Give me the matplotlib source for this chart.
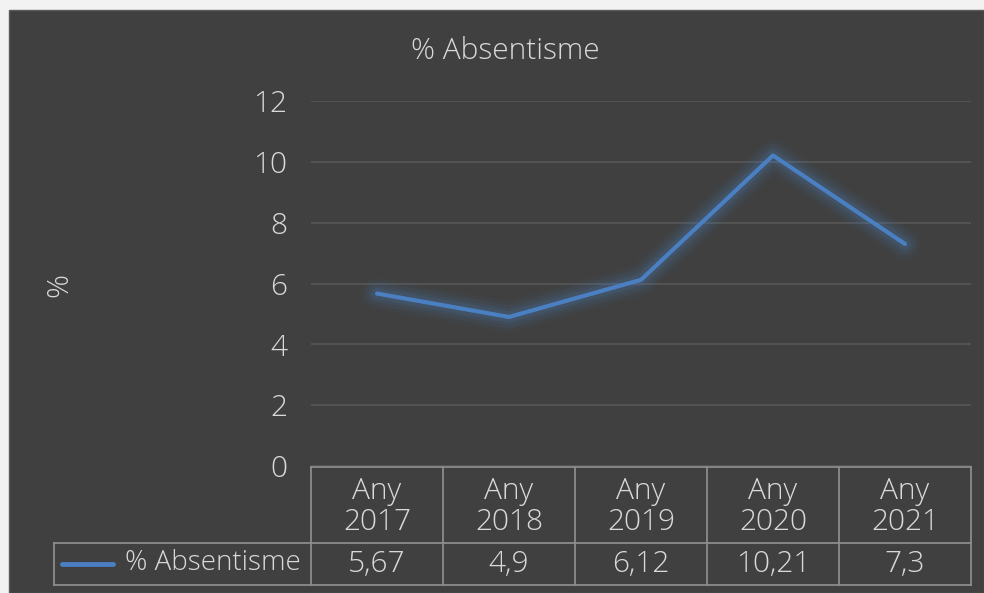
import matplotlib
matplotlib.use("Agg")
import matplotlib.pyplot as plt
from matplotlib.patches import Rectangle

categories = ["Any\n2017", "Any\n2018", "Any\n2019", "Any\n2020", "Any\n2021"]
values = [5.67, 4.9, 6.12, 10.21, 7.3]
value_labels = ["5,67", "4,9", "6,12", "10,21", "7,3"]
series_name = "% Absentisme"
yticks = [0, 2, 4, 6, 8, 10, 12]

W, H = 984, 593
BG = "#404040"
TXT = "#d9d9d9"
BLUE = "#4a7fc1"
GRID = "#575757"
FONT = ["Open Sans", "DejaVu Sans"]
FS = 21.5
FW = "light"

fig = plt.figure(figsize=(W / 100, H / 100), dpi=100)
fig.patch.set_facecolor("#f2f2f2")

ov = fig.add_axes([0, 0, 1, 1])
ov.set_xlim(0, W)
ov.set_ylim(H, 0)
ov.axis("off")
ov.add_patch(Rectangle((9, 10), W - 9, H - 10, facecolor=BG, edgecolor="#5a5a5a", lw=1))

L, R, T, B = 311, 971, 101, 466
ax = fig.add_axes([L / W, 1 - B / H, (R - L) / W, (B - T) / H])
ax.set_facecolor("none")
ax.set_xlim(-0.5, len(values) - 0.5)
ax.set_ylim(0, 12)
for s in ax.spines.values():
    s.set_visible(False)
ax.set_yticks(yticks)
ax.set_yticklabels([str(t) for t in yticks], fontsize=FS, color=TXT, family=FONT,
                   fontweight=FW)
ax.tick_params(axis="y", length=0, pad=17)
ax.set_xticks([])
ax.grid(axis="y", color=GRID, lw=1.2)
ax.set_axisbelow(True)

x = list(range(len(values)))
for lw, a in [(22, 0.05), (17, 0.07), (12, 0.10), (8, 0.14)]:
    ax.plot(x, values, color=BLUE, lw=lw, alpha=a, solid_capstyle="round",
            solid_joinstyle="round", zorder=3)
ax.plot(x, values, color=BLUE, lw=3, solid_capstyle="round", zorder=4)

ov.text(505, 51, "% Absentisme", ha="center", va="center", fontsize=FS,
        color=TXT, family=FONT, fontweight=FW)
ov.text(60, 285, "%", ha="center", va="center", rotation=90, fontsize=FS,
        color=TXT, family=FONT, fontweight=FW)

colw = (R - L) / len(values)
row1_top, row1_bot, row2_bot = 467, 543, 585
leg_left = 54
tcol = "#8c8c8c"
ov.plot([L, R], [row1_top, row1_top], color=tcol, lw=1.3)
ov.plot([leg_left, R], [row1_bot, row1_bot], color=tcol, lw=1.3)
ov.plot([leg_left, R], [row2_bot, row2_bot], color=tcol, lw=1.3)
ov.plot([leg_left, leg_left], [row1_bot, row2_bot], color=tcol, lw=1.3)
for i in range(len(values) + 1):
    xx = L + i * colw
    ov.plot([xx, xx], [row1_top, row2_bot], color=tcol, lw=1.3)
for i, (c, v) in enumerate(zip(categories, value_labels)):
    cx = L + (i + 0.5) * colw
    ov.text(cx, (row1_top + row1_bot) / 2 + 2, c, ha="center", va="center",
            fontsize=FS, color=TXT, family=FONT, fontweight=FW, linespacing=1.05)
    ov.text(cx, (row1_bot + row2_bot) / 2, v, ha="center", va="center",
            fontsize=FS, color=TXT, family=FONT, fontweight=FW)
ov.plot([62, 113], [564, 564], color=BLUE, lw=3.5, solid_capstyle="round")
ov.text(301, 563, series_name, ha="right", va="center", fontsize=FS - 1.5,
        color=TXT, family=FONT, fontweight=FW)

fig.savefig("out.png", dpi=100, facecolor=fig.get_facecolor())
